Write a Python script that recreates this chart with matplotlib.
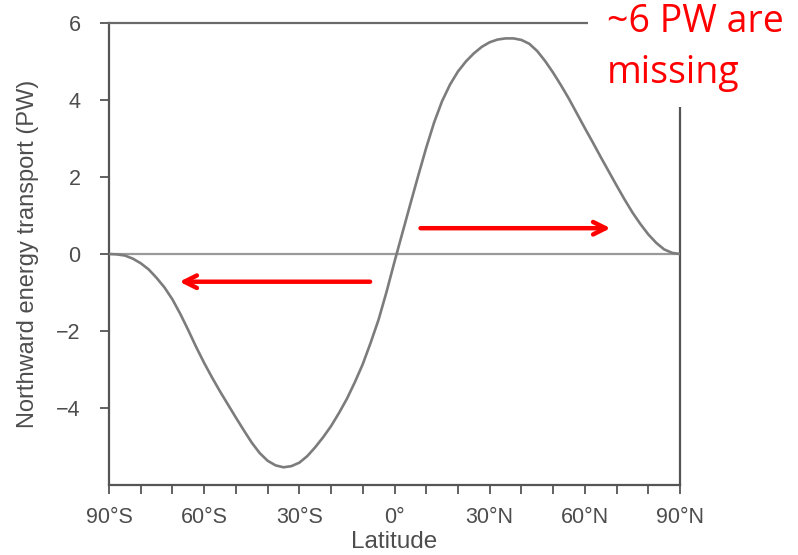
import matplotlib
matplotlib.use("Agg")
import matplotlib.pyplot as plt
from matplotlib.patches import Rectangle

# --- data (read every 2.5 degrees) -----------------------------------
latitude = [-90, -87.5, -85, -82.5, -80, -77.5, -75, -72.5, -70, -67.5,
            -65, -62.5, -60, -57.5, -55, -52.5, -50, -47.5, -45, -42.5,
            -40, -37.5, -35, -32.5, -30, -27.5, -25, -22.5, -20, -17.5,
            -15, -12.5, -10, -7.5, -5, -2.5, 0, 2.5, 5, 7.5,
            10, 12.5, 15, 17.5, 20, 22.5, 25, 27.5, 30, 32.5,
            35, 37.5, 40, 42.5, 45, 47.5, 50, 52.5, 55, 57.5,
            60, 62.5, 65, 67.5, 70, 72.5, 75, 77.5, 80, 82.5,
            85, 87.5, 90]
transport = [0.0, -0.01, -0.04, -0.12, -0.24, -0.40, -0.62, -0.87, -1.18, -1.56,
             -1.98, -2.42, -2.83, -3.21, -3.57, -3.91, -4.25, -4.58, -4.90, -5.17,
             -5.37, -5.49, -5.54, -5.51, -5.42, -5.25, -5.02, -4.76, -4.47, -4.13,
             -3.76, -3.33, -2.86, -2.30, -1.70, -0.98, -0.20, 0.55, 1.30, 2.04,
             2.76, 3.42, 3.97, 4.40, 4.74, 5.00, 5.21, 5.38, 5.50, 5.57,
             5.60, 5.60, 5.56, 5.46, 5.27, 5.01, 4.71, 4.38, 4.03, 3.65,
             3.27, 2.90, 2.52, 2.15, 1.78, 1.42, 1.08, 0.78, 0.51, 0.29,
             0.12, 0.03, 0.0]

xtick_pos = [-90, -60, -30, 0, 30, 60, 90]
xtick_labels = ["90°S", "60°S", "30°S", "0°", "30°N", "60°N", "90°N"]
ytick_pos = [-4, -2, 0, 2, 4, 6]
ytick_labels = ["\u22124", "\u22122", "0", "2", "4", "6"]

arrow_south = ((-7.7, -0.72), (-67.8, -0.72))   # (tail, head)
arrow_north = ((8.2, 0.67), (68.1, 0.67))
note_text = "~6 PW are\nmissing"

# --- figure -----------------------------------------------------------
TXT = "#4d4d4d"
fig = plt.figure(figsize=(7.98, 5.55), dpi=100)
ax = fig.add_axes([109/798, 1 - 485/555, (680 - 109)/798, (485 - 23)/555])

ax.plot(latitude, transport, color="#7c7c7c", lw=1.9, zorder=3,
        solid_joinstyle="round")
ax.axhline(0, color="#9a9a9a", lw=1.6, zorder=2)

ax.set_xlim(-90, 90)
ax.set_ylim(-6, 6)
ax.set_xticks(xtick_pos)
ax.set_xticklabels(xtick_labels)
ax.set_xticks(range(-90, 91, 10), minor=True)
ax.set_yticks(ytick_pos)
ax.set_yticklabels(ytick_labels)

ax.tick_params(axis="both", which="both", direction="out", length=6.5,
               width=1.3, color="#555555", labelcolor=TXT, labelsize=15.5,
               top=False, right=False)
ax.tick_params(axis="x", which="major", pad=9)
ax.tick_params(axis="y", which="major", pad=14)
for lab in ax.get_xticklabels() + ax.get_yticklabels():
    lab.set_fontfamily("Liberation Sans")

for side in ["left", "bottom", "right", "top"]:
    ax.spines[side].set_color("#555555")
    ax.spines[side].set_linewidth(1.6)
ax.spines["top"].set_color("#6a6a6a")

ax.set_xlabel("Latitude", fontsize=17.5, color=TXT, family="Liberation Sans",
              labelpad=2.5)
ax.set_ylabel("Northward energy transport (PW)", fontsize=17, color=TXT,
              family="Liberation Sans", labelpad=12)

for (tail, head) in (arrow_south, arrow_north):
    ax.annotate("", xy=head, xytext=tail,
                arrowprops=dict(arrowstyle="->,head_length=0.9,head_width=0.45",
                                color="#ff0000", lw=3.2, shrinkA=0, shrinkB=0),
                zorder=4)

# white box for the note in the top-right corner
fig.patches.append(Rectangle((588/798, 1 - 107/555), 1 - 588/798, 107/555,
                             transform=fig.transFigure, facecolor="white",
                             edgecolor="none", zorder=10))
fig.text(607/798, 1 - 3/555, note_text, color="#ff0000", fontsize=27,
         family="Open Sans", ha="left", va="top", linespacing=1.45,
         zorder=11)

fig.savefig("out.png", dpi=100, facecolor="white")
